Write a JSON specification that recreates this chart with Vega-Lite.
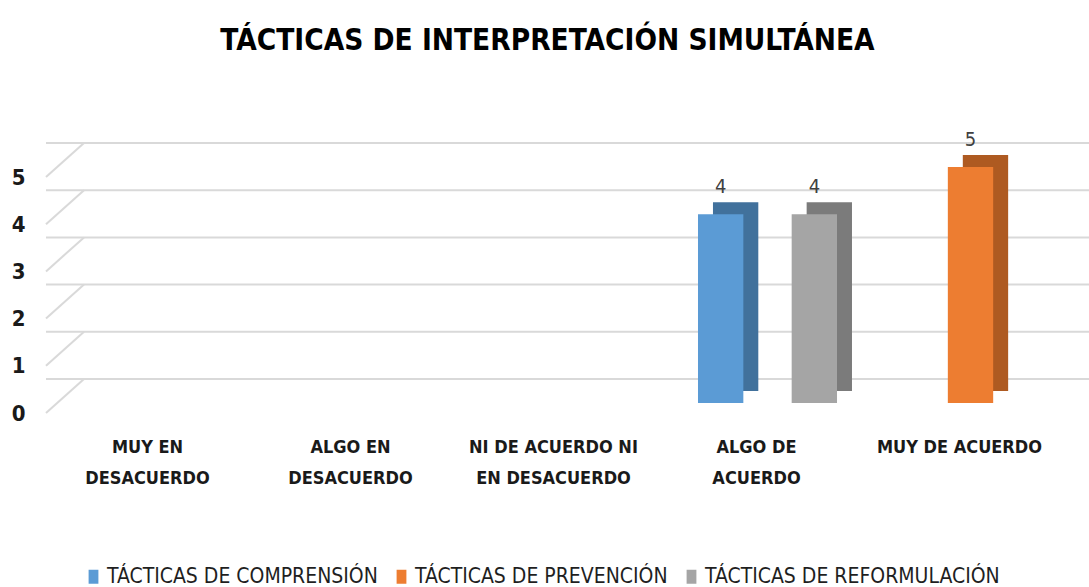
{
  "$schema": "https://vega.github.io/schema/vega-lite/v6.json",
  "autosize": {"type": "none"},
  "padding": {"left": 46, "top": 177, "right": 28, "bottom": 174},
  "width": 1015,
  "height": 236,
  "background": "white",
  "title": {
    "text": "TÁCTICAS DE INTERPRETACIÓN SIMULTÁNEA",
    "anchor": "middle",
    "frame": "group",
    "offset": 51,
    "baseline": "alphabetic",
    "dx": -6,
    "font": "DejaVu Sans Condensed",
    "fontSize": 29.5,
    "fontWeight": "bold",
    "color": "#000000"
  },
  "config": {"view": {"stroke": null}, "font": "DejaVu Sans Condensed"},
  "datasets": {
    "bars": [
      {"categoria": "MUY EN DESACUERDO", "serie": "TÁCTICAS DE COMPRENSIÓN", "valor": 0},
      {"categoria": "ALGO EN DESACUERDO", "serie": "TÁCTICAS DE COMPRENSIÓN", "valor": 0},
      {"categoria": "NI DE ACUERDO NI EN DESACUERDO", "serie": "TÁCTICAS DE COMPRENSIÓN", "valor": 0},
      {"categoria": "ALGO DE ACUERDO", "serie": "TÁCTICAS DE COMPRENSIÓN", "valor": 4},
      {"categoria": "MUY DE ACUERDO", "serie": "TÁCTICAS DE COMPRENSIÓN", "valor": 0},
      {"categoria": "MUY EN DESACUERDO", "serie": "TÁCTICAS DE PREVENCIÓN", "valor": 0},
      {"categoria": "ALGO EN DESACUERDO", "serie": "TÁCTICAS DE PREVENCIÓN", "valor": 0},
      {"categoria": "NI DE ACUERDO NI EN DESACUERDO", "serie": "TÁCTICAS DE PREVENCIÓN", "valor": 0},
      {"categoria": "ALGO DE ACUERDO", "serie": "TÁCTICAS DE PREVENCIÓN", "valor": 0},
      {"categoria": "MUY DE ACUERDO", "serie": "TÁCTICAS DE PREVENCIÓN", "valor": 5},
      {"categoria": "MUY EN DESACUERDO", "serie": "TÁCTICAS DE REFORMULACIÓN", "valor": 0},
      {"categoria": "ALGO EN DESACUERDO", "serie": "TÁCTICAS DE REFORMULACIÓN", "valor": 0},
      {"categoria": "NI DE ACUERDO NI EN DESACUERDO", "serie": "TÁCTICAS DE REFORMULACIÓN", "valor": 0},
      {"categoria": "ALGO DE ACUERDO", "serie": "TÁCTICAS DE REFORMULACIÓN", "valor": 4},
      {"categoria": "MUY DE ACUERDO", "serie": "TÁCTICAS DE REFORMULACIÓN", "valor": 0}
    ],
    "levels": [{"level": 0}, {"level": 1}, {"level": 2}, {"level": 3}, {"level": 4}, {"level": 5}]
  },
  "layer": [
    {
      "data": {"name": "levels"},
      "mark": {"type": "rule", "color": "#d9d9d9", "strokeWidth": 2, "xOffset": 38, "yOffset": -34},
      "encoding": {
        "y": {
          "field": "level", "type": "quantitative", "scale": {"domain": [0, 5], "nice": false, "zero": true},
          "axis": {
            "title": null, "ticks": false, "tickSize": 0, "domain": false, "grid": false, "values": [0, 1, 2, 3, 4, 5],
            "labelPadding": 21, "labelFont": "DejaVu Sans Condensed", "labelFontSize": 22, "labelFontWeight": "bold", "labelColor": "#1a1a1a"
          }
        }
      }
    },
    {
      "data": {"name": "levels"},
      "mark": {"type": "rule", "color": "#d9d9d9", "strokeWidth": 2, "x2Offset": 38, "y2Offset": -34},
      "encoding": {
        "x": {"datum": 0, "type": "quantitative", "scale": {"domain": [0, 1]}, "axis": null},
        "x2": {"datum": 0},
        "y": {"field": "level", "type": "quantitative"},
        "y2": {"field": "level"}
      }
    },
    {
      "data": {"name": "bars"},
      "mark": {"type": "bar", "yOffset": -22, "y2Offset": -22},
      "encoding": {
        "x": {"field": "categoria", "type": "nominal", "sort": null, "scale": {"paddingInner": 0, "paddingOuter": 0}, "axis": null},
        "xOffset": {"field": "serie", "type": "nominal", "sort": null, "scale": {"paddingInner": 0.032, "paddingOuter": 0.683, "align": 0.906}},
        "y": {"field": "valor", "type": "quantitative"},
        "color": {"field": "serie", "type": "nominal", "sort": null, "scale": {"range": ["#41719c", "#ae5a21", "#7b7b7b"]}, "legend": null}
      }
    },
    {
      "data": {"name": "bars"},
      "mark": {"type": "bar", "yOffset": -10, "y2Offset": -10},
      "encoding": {
        "x": {
          "field": "categoria", "type": "nominal", "sort": null,
          "scale": {"paddingInner": 0, "paddingOuter": 0},
          "axis": {
            "title": null, "ticks": false, "tickSize": 0, "domain": false, "labelAngle": 0,
            "labelPadding": 39, "labelBaseline": "alphabetic", "labelLineHeight": 31, "labelLimit": 400,
            "labelFont": "DejaVu Sans Condensed", "labelFontSize": 18, "labelFontWeight": "bold", "labelColor": "#1a1a1a",
            "labelExpr": "datum.label == 'MUY EN DESACUERDO' ? ['MUY EN', 'DESACUERDO'] : datum.label == 'ALGO EN DESACUERDO' ? ['ALGO EN', 'DESACUERDO'] : datum.label == 'NI DE ACUERDO NI EN DESACUERDO' ? ['NI DE ACUERDO NI', 'EN DESACUERDO'] : datum.label == 'ALGO DE ACUERDO' ? ['ALGO DE', 'ACUERDO'] : datum.label"
          }
        },
        "xOffset": {"field": "serie", "type": "nominal", "sort": null, "scale": {"paddingInner": 0.032, "paddingOuter": 0.683, "align": 0.672}},
        "y": {"field": "valor", "type": "quantitative"},
        "color": {
          "field": "serie", "type": "nominal", "sort": null, "title": null,
          "scale": {"range": ["#5b9bd5", "#ed7d31", "#a5a5a5"]},
          "legend": {
            "orient": "none", "legendX": 37, "legendY": 389, "direction": "horizontal",
            "symbolType": "M-0.7,-1H0.7V1H-0.7Z", "symbolSize": 196, "symbolStrokeWidth": 0,
            "labelFont": "DejaVu Sans Condensed", "labelFontSize": 21, "labelColor": "#1f1f1f",
            "labelOffset": 3, "columnPadding": 13, "labelLimit": 400
          }
        }
      }
    },
    {
      "data": {"name": "bars"},
      "transform": [{"filter": "datum.valor > 0"}],
      "mark": {"type": "text", "dy": -31, "baseline": "alphabetic", "align": "center", "font": "DejaVu Sans Condensed", "fontSize": 20, "color": "#404040"},
      "encoding": {
        "x": {"field": "categoria", "type": "nominal", "sort": null, "scale": {"type": "band", "domain": ["MUY EN DESACUERDO", "ALGO EN DESACUERDO", "NI DE ACUERDO NI EN DESACUERDO", "ALGO DE ACUERDO", "MUY DE ACUERDO"], "paddingInner": 0, "paddingOuter": 0}, "axis": null},
        "xOffset": {"field": "serie", "type": "nominal", "sort": null, "scale": {"type": "band", "domain": ["TÁCTICAS DE COMPRENSIÓN", "TÁCTICAS DE PREVENCIÓN", "TÁCTICAS DE REFORMULACIÓN"], "paddingInner": 0.032, "paddingOuter": 0.683, "align": 0.672}},
        "y": {"field": "valor", "type": "quantitative"},
        "text": {"field": "valor", "type": "quantitative"}
      }
    }
  ],
  "resolve": {"scale": {"color": "independent", "x": "independent", "xOffset": "independent"}}
}
